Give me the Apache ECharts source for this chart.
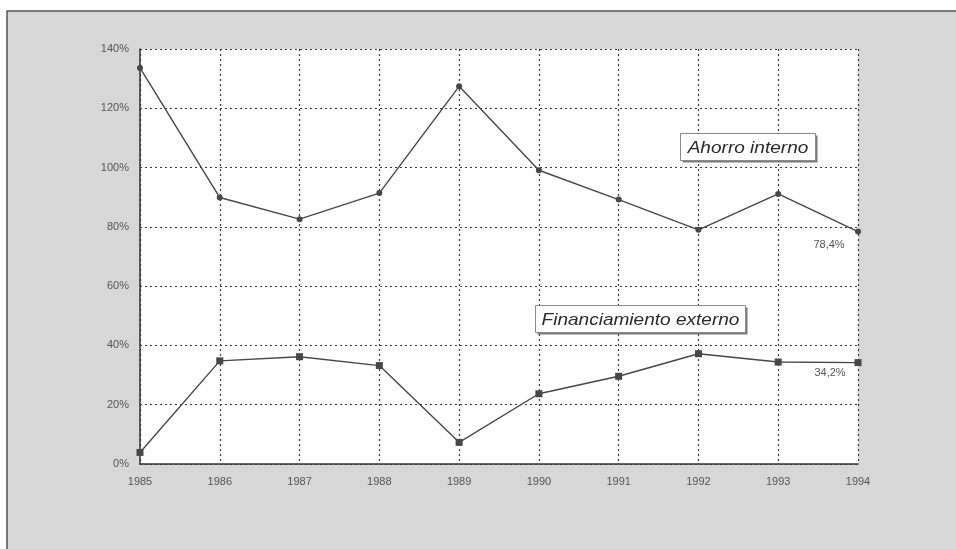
<!DOCTYPE html>
<html>
<head>
<meta charset="utf-8">
<script src="https://cdn.jsdelivr.net/npm/echarts@6/dist/echarts.min.js"></script>
<style>
  html, body { margin: 0; padding: 0; background: #ffffff; }
  #chart { width: 956px; height: 549px; }
</style>
</head>
<body>
<div id="chart"></div>
<script>
// Años de la serie
const years = ['1985', '1986', '1987', '1988', '1989', '1990', '1991', '1992', '1993', '1994'];

// Ahorro interno (% de la inversión)
const ahorroInterno = [133.6, 89.9, 82.6, 91.4, 127.4, 99.1, 89.2, 79.0, 91.1, 78.4];

// Financiamiento externo (% de la inversión)
const financiamientoExterno = [3.9, 34.8, 36.2, 33.2, 7.3, 23.7, 29.6, 37.2, 34.4, 34.2];

// Marcas del eje vertical
const yTicks = [0, 20, 40, 60, 80, 100, 120, 140];

const FONT = '"Liberation Sans", Arial, sans-serif';
const INK = '#474747';

function pct(v) {
  return String(v).replace('.', ',') + '%';
}

// Solo el último punto de cada serie lleva etiqueta con su valor
function withEndLabel(values, offset) {
  return values.map((v, i) => i === values.length - 1
    ? { value: v, label: { show: true, position: 'bottom', offset: offset,
        formatter: p => pct(p.value), color: '#555', fontSize: 11, fontFamily: FONT } }
    : v);
}

// Cuadro de texto con sombra, dibujado por encima de la cuadrícula
function captionBox(x, y, w, h, text) {
  return { type: 'group', left: x, top: y, z: 100, children: [
    { type: 'rect', z: 100, shape: { x: 2, y: 2, width: w, height: h }, style: { fill: '#7a7a7a' } },
    { type: 'rect', z: 101, shape: { x: 0, y: 0, width: w, height: h },
      style: { fill: '#ffffff', stroke: '#8a8a8a', lineWidth: 1 } },
    { type: 'text', z: 102, x: w / 2, y: h / 2 + 1, scaleX: 1.12, scaleY: 1,
      style: { text: text, fill: '#2a2a2a', font: 'italic 17px ' + FONT,
               align: 'center', verticalAlign: 'middle' } }
  ] };
}

const chart = echarts.init(document.getElementById('chart'), null, { renderer: 'canvas' });

const dotted = { type: [2, 3], color: '#3a3a3a', width: 1.2 };

chart.setOption({
  animation: false,
  backgroundColor: '#ffffff',
  graphic: [
    // fondo gris del recuadro
    { type: 'rect', z: -10, shape: { x: 7, y: 11, width: 960, height: 560 },
      style: { fill: '#d7d7d7', stroke: '#555', lineWidth: 1.5 } },
    // área de trazado blanca
    { type: 'rect', z: -9, shape: { x: 140, y: 49, width: 718, height: 415 },
      style: { fill: '#ffffff' } },
    captionBox(680, 133, 135, 27, 'Ahorro interno'),
    captionBox(535, 305, 210, 27, 'Financiamiento externo')
  ],
  grid: { left: 140, right: 98, top: 49, bottom: 85, containLabel: false },
  xAxis: {
    type: 'category',
    data: years,
    boundaryGap: false,
    axisLine: { lineStyle: { color: '#333', width: 1.5 } },
    axisTick: { show: false },
    axisLabel: { color: '#555', fontSize: 11, fontFamily: FONT, margin: 12 },
    splitLine: { show: true, lineStyle: dotted }
  },
  yAxis: {
    type: 'value',
    min: yTicks[0],
    max: yTicks[yTicks.length - 1],
    interval: yTicks[1] - yTicks[0],
    axisLine: { show: true, lineStyle: { color: '#333', width: 1.5 } },
    axisTick: { show: false },
    axisLabel: { color: '#555', fontSize: 11, fontFamily: FONT, margin: 11,
                 formatter: '{value}%' },
    splitLine: { show: true, lineStyle: dotted }
  },
  series: [
    {
      name: 'Ahorro interno',
      type: 'line',
      data: withEndLabel(ahorroInterno, [-29, 0]),
      symbol: 'circle',
      symbolSize: 6,
      lineStyle: { color: INK, width: 1.4 },
      itemStyle: { color: INK },
      z: 5
    },
    {
      name: 'Financiamiento externo',
      type: 'line',
      data: withEndLabel(financiamientoExterno, [-28, -4]),
      symbol: 'rect',
      symbolSize: 7,
      lineStyle: { color: INK, width: 1.4 },
      itemStyle: { color: INK },
      z: 5
    }
  ]
});
</script>
</body>
</html>
